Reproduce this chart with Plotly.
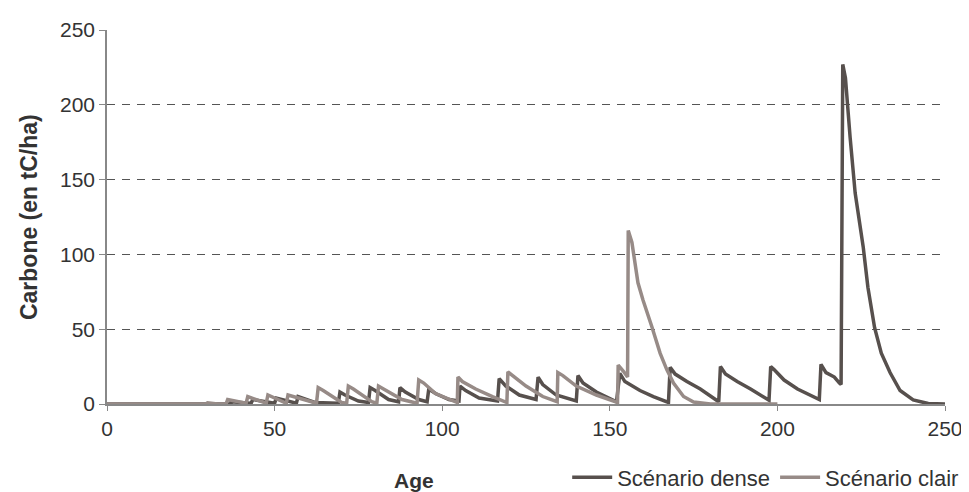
import plotly.graph_objects as go

# Scénario dense : sommets de la courbe (âge, carbone en tC/ha)
age_dense = [0, 37, 37, 43, 43.5, 50, 50.5, 56.5, 57, 62, 69, 69.5, 71, 75, 78, 78.5, 80, 84,
             87, 87.4, 89, 93, 95.5, 96, 98, 102, 105, 105.3, 107, 111, 116.5, 117, 119, 123,
             128, 128.6, 130, 134, 140, 140.5, 142, 146, 152, 153, 154.5, 159, 163, 167.5, 168,
             169.5, 173, 177, 182.5, 183, 184.5, 188, 192, 197.5, 198, 199, 202, 206, 212.5, 213,
             214.5, 217, 218.5, 219, 219.5, 220.3, 221.7, 223.2, 225.6, 227, 229, 231, 233.6,
             236.6, 240.5, 245, 250]
carbone_dense = [0, 0, 1.5, 0.5, 3, 0.5, 4, 0.5, 5, 1, 0.5, 8, 6, 2, 1, 11, 9, 3,
                 1.5, 11, 8, 3, 1.5, 10, 7, 3, 2, 12, 9, 4, 2, 17, 12, 6,
                 3, 18, 13, 6, 2, 19, 14, 8, 1.5, 20.5, 15, 9, 5, 1, 24.5,
                 20, 15, 10, 1.5, 25, 20, 15, 10, 2.5, 25, 23, 16, 10, 3, 26.5,
                 21, 18, 14, 13, 227, 218, 178, 141, 105, 78, 51, 34, 21,
                 9, 2.7, 0.3, 0]

# Scénario clair
age_clair = [0, 29.5, 30, 33, 35.5, 36, 41.5, 42, 47.5, 48, 53.5, 54, 62.5, 63, 64.5, 70,
             71.5, 72, 73.5, 79, 80.5, 81, 82.5, 88, 92.5, 93, 94.5, 98, 104.5, 104.7, 106,
             110, 115, 119.3, 119.6, 121, 125, 130, 134.3, 134.5, 136, 140, 146, 152.3, 152.5,
             154, 155.3, 155.5, 156.6, 158.4, 159.9, 162.5, 165, 167, 169, 172, 175, 180, 200]
carbone_clair = [0, 0, 0.8, 0, 0, 3, 0.5, 5, 0.5, 6, 0.5, 6, 0.5, 11, 9, 1,
                 0.5, 12, 10, 1.5, 0.5, 12, 10, 3, 0.5, 16, 14, 7, 1, 18, 15,
                 10, 5, 1, 21.5, 19, 12, 5, 1.5, 21, 19, 12, 6, 1, 26,
                 22, 18, 116, 108, 81, 69.5, 52, 34, 23, 14, 5, 1.3, 0, 0]

couleur_dense = '#57504d'
couleur_clair = '#978b87'
police = 'Arial, Liberation Sans, sans-serif'

fig = go.Figure()
fig.add_trace(go.Scatter(x=age_dense, y=carbone_dense, mode='lines', name='Scénario dense',
                         line=dict(color=couleur_dense, width=3.5)))
fig.add_trace(go.Scatter(x=age_clair, y=carbone_clair, mode='lines', name='Scénario clair',
                         line=dict(color=couleur_clair, width=3.5)))

# la page a une marge de 8 px : la figure fait donc 961x484
fig.update_layout(
    width=961, height=484,
    margin=dict(l=99, r=24, t=22, b=88, autoexpand=False),
    paper_bgcolor='white', plot_bgcolor='white',
    font=dict(family=police, size=21, color='#333333'),
    showlegend=True,
    legend=dict(orientation='h', xref='container', yref='container',
                x=0.995, xanchor='right', y=0.03, yanchor='middle',
                font=dict(size=22, color='#333333'), itemwidth=40,
                bgcolor='rgba(0,0,0,0)', tracegroupgap=0),
    xaxis=dict(range=[0, 250], tickvals=[0, 50, 100, 150, 200, 250],
               showgrid=False, zeroline=False, showline=True, linecolor='#888888', linewidth=1.5,
               ticks='outside', ticklen=5, tickcolor='#888888', tickfont=dict(size=21),
               automargin=False),
    yaxis=dict(range=[0, 250], tickvals=[0, 50, 100, 150, 200, 250],
               showgrid=True, gridcolor='#555555', gridwidth=1, griddash='8px,7px',
               zeroline=False, showline=True, linecolor='#888888', linewidth=1.5,
               ticks='outside', ticklen=6, tickcolor='#888888', tickfont=dict(size=21),
               automargin=False),
    annotations=[
        dict(text='<b>Age</b>', xref='paper', yref='paper', x=0.366, y=-0.205,
             xanchor='center', yanchor='middle', showarrow=False, font=dict(size=21)),
        dict(text='<b>Carbone (en tC/ha)</b>', xref='paper', yref='paper', x=-0.093, y=0.5,
             xanchor='center', yanchor='middle', textangle=-90, showarrow=False,
             font=dict(size=23)),
    ],
)

fig.write_html("out.html")
